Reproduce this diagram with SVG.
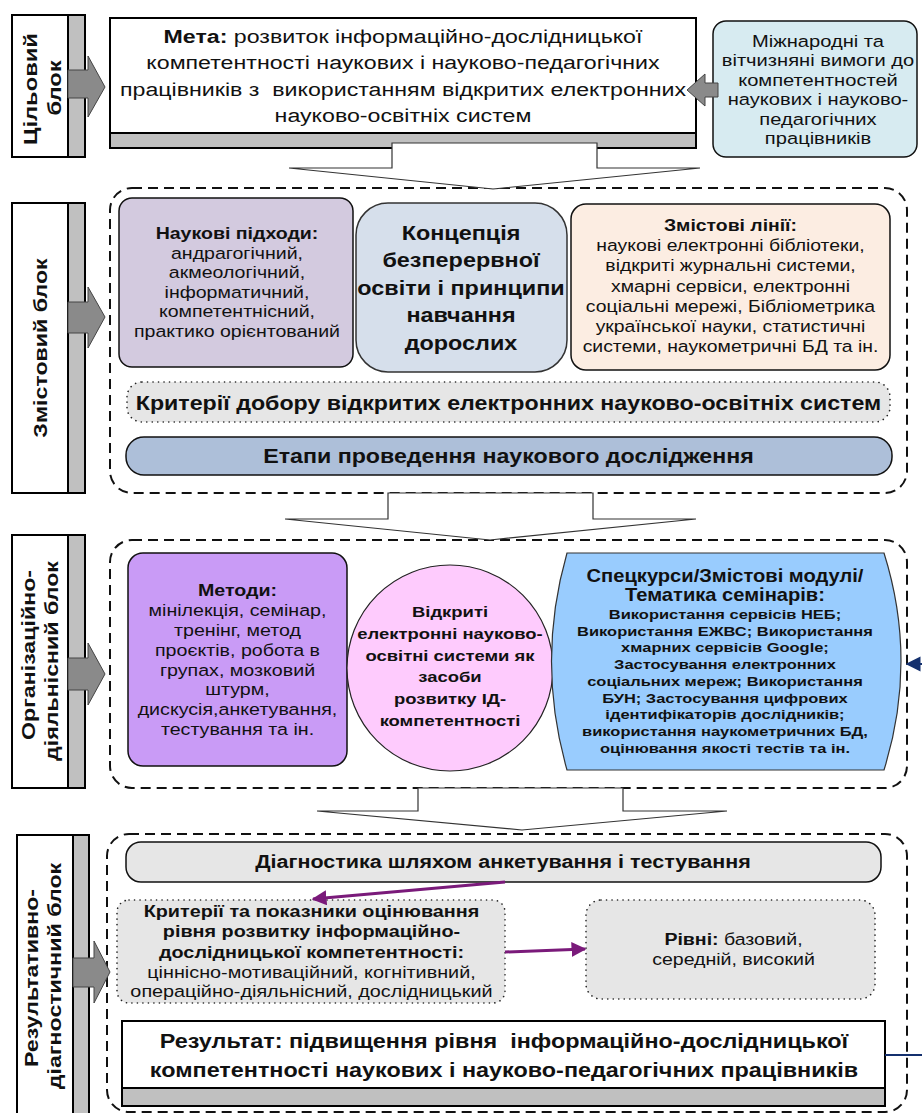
<svg xmlns="http://www.w3.org/2000/svg" width="922" height="1113" viewBox="0 0 922 1113">
<defs>
<style>
text{font-family:"Liberation Sans",Arial,sans-serif;fill:#111;text-anchor:middle}
.b{font-weight:bold}
.lab{fill:#fff;stroke:#000;stroke-width:2}
.stripe{fill:#c0c0c0;stroke:#000;stroke-width:2}
.dash{fill:none;stroke:#111;stroke-width:2;stroke-dasharray:10 6}
.dot{fill:#e6e6e6;stroke:#222;stroke-width:1.6;stroke-dasharray:0.1 5.4;stroke-linecap:round}
.garrow{fill:#8a8a8a;stroke:#444;stroke-width:1}
.bracket{fill:#fff;stroke:#333;stroke-width:1.2}
.purple{stroke:#7a1a7a;stroke-width:3;fill:none}
</style>
<marker id="pm" viewBox="0 0 10 10" refX="9" refY="5" markerWidth="5" markerHeight="5" orient="auto" markerUnits="strokeWidth">
<path d="M0,0 L10,5 L0,10 Z" fill="#7a1a7a"/>
</marker>
<marker id="nm" viewBox="0 0 10 10" refX="9" refY="5" markerWidth="7.5" markerHeight="9" orient="auto" markerUnits="strokeWidth">
<path d="M0,0 L10,5 L0,10 Z" fill="#14306e"/>
</marker>
</defs>

<!-- Block labels -->
<g id="label-tsilovyi">
<rect class="lab" x="12" y="15" width="73" height="142"/>
<rect class="stripe" x="68" y="15" width="17" height="142"/>
<text class="b" font-size="19" transform="translate(37,89) rotate(-90) scale(1.25,1)">Цільовий</text>
<text class="b" font-size="19" transform="translate(61,88) rotate(-90) scale(1.25,1)">блок</text>
</g>
<g id="label-zmistovyi">
<rect class="lab" x="12" y="203" width="73" height="290"/>
<rect class="stripe" x="68" y="203" width="17" height="290"/>
<text class="b" font-size="19" transform="translate(47,348) rotate(-90) scale(1.22,1)">Змістовий блок</text>
</g>
<g id="label-orh">
<rect class="lab" x="12" y="535" width="73" height="253"/>
<rect class="stripe" x="68" y="535" width="17" height="253"/>
<text class="b" font-size="19" transform="translate(35,655) rotate(-90) scale(1.22,1)">Організаційно-</text>
<text class="b" font-size="19" transform="translate(58,661) rotate(-90) scale(1.22,1)">діяльнісний блок</text>
</g>
<g id="label-rez">
<rect class="lab" x="17" y="835" width="72" height="290"/>
<rect class="stripe" x="73" y="835" width="16" height="290"/>
<text class="b" font-size="19" transform="translate(38,978) rotate(-90) scale(1.22,1)">Результативно-</text>
<text class="b" font-size="19" transform="translate(61,976) rotate(-90) scale(1.22,1)">діагностичний блок</text>
</g>

<!-- Goal block -->
<g id="meta">
<rect x="110" y="18" width="586" height="130" fill="#fff" stroke="#000" stroke-width="2"/>
<rect x="110" y="133" width="586" height="15" fill="#c0c0c0" stroke="#000" stroke-width="2"/>
<g transform="matrix(1.22 0 0 1 -88.66 0)">
<text font-size="19" x="403" y="43"><tspan class="b">Мета:</tspan> розвиток інформаційно-дослідницької</text>
<text font-size="19" x="403" y="69">компетентності наукових і науково-педагогічних</text>
<text font-size="19" x="403" y="96">працівників з&#160; використанням відкритих електронних</text>
<text font-size="19" x="403" y="122">науково-освітніх систем</text>
</g>
</g>
<g id="vymohy">
<rect x="713" y="21" width="204" height="136" rx="13" fill="#d7ebf1" stroke="#111" stroke-width="1.5"/>
<g transform="matrix(1.22 0 0 1 -179.96 0)">
<text font-size="16.5" x="818" y="47">Міжнародні та</text>
<text font-size="16.5" x="818" y="66.4">вітчизняні вимоги до</text>
<text font-size="16.5" x="818" y="85.8">компетентностей</text>
<text font-size="16.5" x="818" y="105.2">наукових і науково-</text>
<text font-size="16.5" x="818" y="124.6">педагогічних</text>
<text font-size="16.5" x="818" y="144">працівників</text>
</g>
</g>

<!-- Content block -->
<g id="zmist-container">
<rect class="dash" x="110" y="188" width="797" height="305" rx="22"/>
</g>
<g id="pidkhody">
<rect x="119" y="198" width="234" height="169" rx="13" fill="#d3cadf" stroke="#111" stroke-width="1.5"/>
<g transform="matrix(1.15 0 0 1 -35.55 0)">
<text class="b" font-size="17" x="237" y="239">Наукові підходи:</text>
<text font-size="17" x="237" y="258.6">андрагогічний,</text>
<text font-size="17" x="237" y="278.2">акмеологічний,</text>
<text font-size="17" x="237" y="297.8">інформатичний,</text>
<text font-size="17" x="237" y="317.4">компетентнісний,</text>
<text font-size="17" x="237" y="337">практико орієнтований</text>
</g>
</g>
<g id="kontseptsiia">
<rect x="356" y="203" width="211" height="169" rx="32" fill="#d6dfeb" stroke="#333" stroke-width="1.5"/>
<g transform="matrix(1.17 0 0 1 -78.37 0)">
<text class="b" font-size="20" x="461" y="240">Концепція</text>
<text class="b" font-size="20" x="461" y="267.5">безперервної</text>
<text class="b" font-size="20" x="461" y="295">освіти і принципи</text>
<text class="b" font-size="20" x="461" y="322.5">навчання</text>
<text class="b" font-size="20" x="461" y="350">дорослих</text>
</g>
</g>
<g id="linii">
<rect x="571" y="204" width="319" height="166" rx="15" fill="#fcede2" stroke="#111" stroke-width="1.5"/>
<g transform="matrix(1.14 0 0 1 -102.27 0)">
<text class="b" font-size="17" x="730.5" y="231">Змістові лінії:</text>
<text font-size="17" x="730.5" y="251.2">наукові електронні бібліотеки,</text>
<text font-size="17" x="730.5" y="271.4">відкриті журнальні системи,</text>
<text font-size="17" x="730.5" y="291.6">хмарні сервіси, електронні</text>
<text font-size="17" x="730.5" y="311.8">соціальні мережі, Бібліометрика</text>
<text font-size="17" x="730.5" y="332">української науки, статистичні</text>
<text font-size="17" x="730.5" y="352">системи, наукометричні БД та ін.</text>
</g>
</g>
<g id="kryterii-doboru">
<rect class="dot" x="127" y="382" width="763" height="40" rx="15"/>
<text class="b" font-size="19.5" x="508.5" y="410" transform="matrix(1.19 0 0 1 -96.62 0)">Критерії добору відкритих електронних науково-освітніх систем</text>
</g>
<g id="etapy">
<rect x="126" y="437" width="766" height="38" rx="18" fill="#adbfd9" stroke="#111" stroke-width="1.5"/>
<text class="b" font-size="19.5" x="508.5" y="463" transform="matrix(1.19 0 0 1 -96.62 0)">Етапи проведення наукового дослідження</text>
</g>

<!-- Organisational block -->
<g id="org-container">
<rect class="dash" x="110" y="540" width="797" height="248" rx="22"/>
</g>
<g id="metody">
<rect x="128" y="553" width="219" height="213" rx="15" fill="#c99bf6" stroke="#111" stroke-width="1.5"/>
<g transform="matrix(1.155 0 0 1 -36.81 0)">
<text class="b" font-size="17" x="237.5" y="596">Методи:</text>
<text font-size="17" x="237.5" y="615.9">мінілекція, семінар,</text>
<text font-size="17" x="237.5" y="635.8">тренінг, метод</text>
<text font-size="17" x="237.5" y="655.7">проєктів, робота в</text>
<text font-size="17" x="237.5" y="675.6">групах, мозковий</text>
<text font-size="17" x="237.5" y="695.5">штурм,</text>
<text font-size="17" x="237.5" y="715.4">дискусія,анкетування,</text>
<text font-size="17" x="237.5" y="735.3">тестування та ін.</text>
</g>
</g>
<g id="systemy">
<ellipse cx="450" cy="668" rx="103" ry="103" fill="#fecbfd" stroke="#222" stroke-width="1.2"/>
<g transform="matrix(1.19 0 0 1 -85.5 0)">
<text class="b" font-size="15.5" x="450" y="617">Відкриті</text>
<text class="b" font-size="15.5" x="450" y="638.8">електронні науково-</text>
<text class="b" font-size="15.5" x="450" y="660.6">освітні системи як</text>
<text class="b" font-size="15.5" x="450" y="682.4">засоби</text>
<text class="b" font-size="15.5" x="450" y="704.2">розвитку ІД-</text>
<text class="b" font-size="15.5" x="450" y="726">компетентності</text>
</g>
</g>
<g id="spetskursy">
<path d="M567,553 L884,553 Q918,661 884,770 L567,770 Q536,661 567,553 Z" fill="#99ccfe" stroke="#333" stroke-width="1.2"/>
<g transform="matrix(1.15 0 0 1 -108.75 0)">
<text class="b" font-size="17.5" x="725" y="582">Спецкурси/Змістові модулі/</text>
<text class="b" font-size="17.5" x="725" y="601">Тематика семінарів:</text>
</g>
<g transform="matrix(1.22 0 0 1 -159.5 0)">
<text class="b" font-size="13.5" x="725" y="619">Використання сервісів НЕБ;</text>
<text class="b" font-size="13.5" x="725" y="635.75">Використання ЕЖВС; Використання</text>
<text class="b" font-size="13.5" x="725" y="652.5">хмарних сервісів Google;</text>
<text class="b" font-size="13.5" x="725" y="669.25">Застосування електронних</text>
<text class="b" font-size="13.5" x="725" y="686">соціальних мереж; Використання</text>
<text class="b" font-size="13.5" x="725" y="702.75">БУН; Застосування цифрових</text>
<text class="b" font-size="13.5" x="725" y="719.5">ідентифікаторів дослідників;</text>
<text class="b" font-size="13.5" x="725" y="736.25">використання наукометричних БД,</text>
<text class="b" font-size="13.5" x="725" y="753">оцінювання якості тестів та ін.</text>
</g>
</g>

<!-- Result block -->
<g id="rez-container">
<rect class="dash" x="107" y="834" width="800" height="278" rx="22"/>
</g>
<g id="diahnostyka">
<rect x="126" y="842" width="755" height="40" rx="15" fill="#e6e6e6" stroke="#111" stroke-width="1.5"/>
<text class="b" font-size="17.5" x="503" y="868" transform="matrix(1.23 0 0 1 -115.69 0)">Діагностика шляхом анкетування і тестування</text>
</g>
<g id="kryterii-pokaznyky">
<rect class="dot" x="117" y="900" width="388" height="103" rx="12"/>
<g transform="matrix(1.2 0 0 1 -62.3 0)">
<text class="b" font-size="16.5" x="311.5" y="917">Критерії та показники оцінювання</text>
<text class="b" font-size="16.5" x="311.5" y="937.5">рівня розвитку інформаційно-</text>
<text class="b" font-size="16.5" x="311.5" y="958">дослідницької компетентності:</text>
<text font-size="16.5" x="311.5" y="978">ціннісно-мотиваційний, когнітивний,</text>
<text font-size="16.5" x="311.5" y="997">операційно-діяльнісний, дослідницький</text>
</g>
</g>
<g id="rivni">
<rect class="dot" x="586" y="900" width="289" height="99" rx="15"/>
<g transform="matrix(1.15 0 0 1 -110.03 0)">
<text font-size="17" x="733.5" y="945"><tspan class="b">Рівні:</tspan> базовий,</text>
<text font-size="17" x="733.5" y="965">середній, високий</text>
</g>
</g>
<g id="rezultat">
<rect x="122" y="1021" width="763" height="85" fill="#fff" stroke="#000" stroke-width="2"/>
<rect x="122" y="1088" width="763" height="18" fill="#c0c0c0" stroke="#000" stroke-width="2"/>
<g transform="matrix(1.17 0 0 1 -85.68 0)">
<text class="b" font-size="20" x="504" y="1048">Результат: підвищення рівня&#160; інформаційно-дослідницької</text>
<text class="b" font-size="20" x="504" y="1077">компетентності наукових і науково-педагогічних працівників</text>
</g>
</g>

<!-- Connectors -->
<g id="connectors">
<path class="garrow" d="M68,70 L88,70 L88,56 L105,87 L88,117 L88,98 L68,98 Z"/>
<path class="garrow" d="M68,302 L88,302 L88,287 L105,317 L88,348 L88,333 L68,333 Z"/>
<path class="garrow" d="M68,658 L88,658 L88,643 L105,674 L88,705 L88,690 L68,690 Z"/>
<path class="garrow" d="M73,958 L94,958 L94,941 L110,972 L94,1003 L94,987 L73,987 Z"/>
<path class="garrow" d="M718,83 L705,83 L705,74 L687,90 L705,106 L705,97 L718,97 Z"/>
<path class="bracket" d="M392,143 L597,143 L597,168 L700,168 L493,189 L289,168 L392,168 Z"/>
<path class="bracket" d="M388,493 L593,493 L593,519 L696,519 L490,540 L285,519 L388,519 Z"/>
<path class="bracket" d="M418,788 L623,788 L623,811 L727,811 L522,830 L317,811 L418,811 Z"/>
<line class="purple" x1="505" y1="882" x2="313" y2="899" marker-end="url(#pm)"/>
<line class="purple" x1="505" y1="952" x2="585" y2="949" marker-end="url(#pm)"/>
<path d="M885,1055 L940,1055 L940,664 L907,664" fill="none" stroke="#14306e" stroke-width="2" marker-end="url(#nm)"/>
</g>
</svg>
